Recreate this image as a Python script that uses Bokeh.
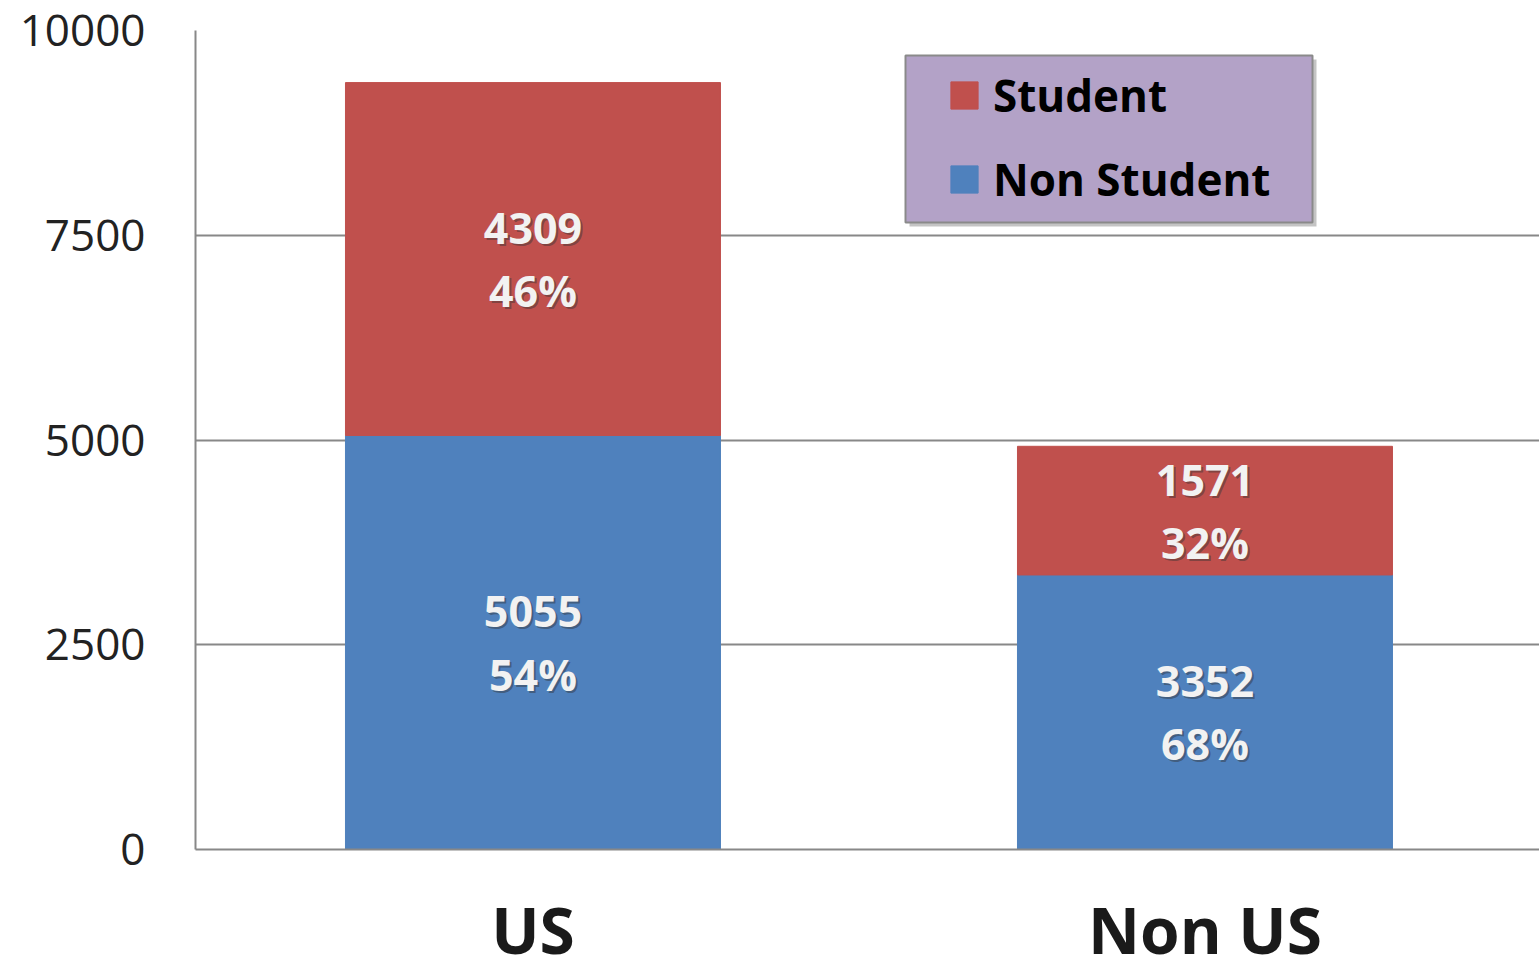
from bokeh.plotting import figure
from bokeh.models import (Range1d, FixedTicker, Legend, LegendItem, ColumnDataSource,
                          BoxAnnotation)
from bokeh.core.properties import value
from bokeh.embed import file_html
from bokeh.resources import INLINE

# ---- data ----
categories = ["US", "Non US"]
non_student = [5055, 3352]
student = [4309, 1571]
y_ticks = [0, 2500, 5000, 7500, 10000]

RED = "#C0504D"
BLUE = "#4F81BD"
FONT = "Open Sans"

W, H = 1539, 976
LEFT, TOP, BOTTOM = 195, 30, H - 849
X0, X1 = 0.4978, 0.4978 + (W - LEFT) / 672
Y0, Y1 = 0, 10000

xs = [1, 2]
totals = [a + b for a, b in zip(non_student, student)]
src = ColumnDataSource(dict(
    x=xs,
    ns_top=non_student,
    st_top=totals,
    ns_mid=[v / 2 for v in non_student],
    st_mid=[a + b / 2 for a, b in zip(non_student, student)],
    ns_txt=[f"{v}\n{round(v / t * 100)}%" for v, t in zip(non_student, totals)],
    st_txt=[f"{v}\n{round(v / t * 100)}%" for v, t in zip(student, totals)],
))

p = figure(width=W, height=H,
           x_range=Range1d(X0, X1), y_range=Range1d(Y0, Y1),
           output_backend="svg", toolbar_location=None,
           min_border_left=LEFT, min_border_top=TOP, min_border_bottom=BOTTOM,
           min_border_right=0)
p.outline_line_color = None
p.background_fill_color = "white"
p.border_fill_color = "white"

bw = 375 / 672
r_ns = p.vbar(x="x", bottom=0, top="ns_top", width=bw, source=src,
              fill_color=BLUE, line_color=BLUE)
r_st = p.vbar(x="x", bottom="ns_top", top="st_top", width=bw, source=src,
              fill_color=RED, line_color=RED)

for col_y, col_t in (("ns_mid", "ns_txt"), ("st_mid", "st_txt")):
    p.text(x="x", y=col_y, text=col_t, source=src, x_offset=2, y_offset=2,
           text_font=value(FONT), text_font_style="bold", text_font_size="43px",
           text_color="#333333", text_alpha=0.45, text_align="center",
           text_baseline="middle", text_line_height=1.07)
    p.text(x="x", y=col_y, text=col_t, source=src,
           text_font=value(FONT), text_font_style="bold", text_font_size="43px",
           text_color="#F2F2F2", text_align="center",
           text_baseline="middle", text_line_height=1.07)

# axes
p.yaxis.ticker = FixedTicker(ticks=y_ticks)
p.yaxis.major_tick_line_color = None
p.yaxis.minor_tick_line_color = None
p.yaxis.major_tick_out = 0
p.yaxis.major_label_standoff = 50
p.yaxis.major_label_text_font = FONT
p.yaxis.major_label_text_font_size = "44px"
p.yaxis.major_label_text_color = "#222222"
p.yaxis.axis_line_color = "#888888"
p.yaxis.axis_line_width = 2

p.xaxis.ticker = FixedTicker(ticks=xs)
p.xaxis.major_label_overrides = {x: c for x, c in zip(xs, categories)}
p.xaxis.major_label_text_font = FONT
p.xaxis.major_label_text_font_style = "bold"
p.xaxis.major_label_text_font_size = "64px"
p.xaxis.major_label_text_color = "#1a1a1a"
p.xaxis.major_label_standoff = 36
p.xaxis.major_tick_line_color = None
p.xaxis.minor_tick_line_color = None
p.xaxis.major_tick_out = 0
p.xaxis.major_tick_in = 0
p.xaxis.axis_line_color = "#888888"
p.xaxis.axis_line_width = 2

p.xgrid.grid_line_color = None
p.ygrid.ticker = FixedTicker(ticks=y_ticks)
p.ygrid.grid_line_color = "#888888"
p.ygrid.grid_line_width = 2

ppy = (H - TOP - BOTTOM) / (Y1 - Y0)  # pixels per data unit


# legend box (with shadow) behind legend
def px_x(px):
    return X0 + (px - LEFT) / 672


def px_y(py):
    return (849 - py) / ppy


p.add_layout(BoxAnnotation(left=px_x(909), right=px_x(1316), top=px_y(59), bottom=px_y(226),
                           fill_color="#555555", fill_alpha=0.35, line_color=None))
p.add_layout(BoxAnnotation(left=px_x(905), right=px_x(1312), top=px_y(55), bottom=px_y(222),
                           fill_color="#B3A2C7", fill_alpha=1.0,
                           line_color="#8a8a8a", line_width=2, line_alpha=1.0))

legend = Legend(items=[LegendItem(label="Student", renderers=[r_st]),
                       LegendItem(label="Non Student", renderers=[r_ns])],
                location=(952 - LEFT - 17 + 12, 849 - 222 + 13))
legend.background_fill_alpha = 0.0
legend.border_line_color = None
legend.label_text_font = FONT
legend.label_text_font_style = "bold"
legend.label_text_font_size = "44px"
legend.label_text_color = "black"
legend.glyph_width = 34
legend.glyph_height = 34
legend.label_standoff = 12
legend.spacing = 24
legend.padding = 17
legend.margin = 0
p.add_layout(legend, "center")

open("out.html", "w").write(file_html(p, INLINE))
